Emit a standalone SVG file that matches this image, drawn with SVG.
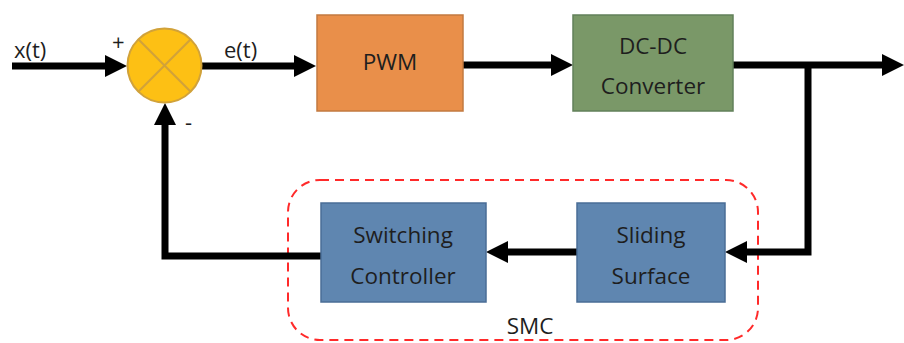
<svg xmlns="http://www.w3.org/2000/svg" width="904" height="343" viewBox="0 0 904 343">
  <style>
    .lbl { font-family: "Open Sans", "Liberation Sans", sans-serif; font-size: 22.5px; fill: #1e1e1e; text-anchor: middle; }
    .sig { font-family: "Open Sans", "Liberation Sans", sans-serif; font-size: 22px; fill: #1e1e1e; }
    .wire { fill: none; stroke: #000; stroke-width: 7; stroke-linejoin: miter; }
    .blue { fill: #5f86b0; stroke: #4a6d96; stroke-width: 1.5; }
  </style>
  <defs>
    <marker id="arrow" markerUnits="userSpaceOnUse" markerWidth="24" markerHeight="24" refX="4" refY="11" orient="auto">
      <path d="M0,0 L22,11 L0,22 Z" fill="#000"/>
    </marker>
  </defs>

  <!-- SMC boundary -->
  <g id="smc">
    <rect x="288" y="180" width="470" height="160" rx="32" ry="32" fill="none" stroke="#ff2a2a" stroke-width="2" stroke-dasharray="9,6"/>
    <text class="lbl" x="530" y="334">SMC</text>
  </g>

  <!-- connectors -->
  <g id="connectors">
    <path class="wire" d="M12,66 H109" marker-end="url(#arrow)"/>
    <path class="wire" d="M202,66 H298" marker-end="url(#arrow)"/>
    <path class="wire" d="M463,65 H555" marker-end="url(#arrow)"/>
    <path class="wire" d="M733,65 H886" marker-end="url(#arrow)"/>
    <path class="wire" d="M808,65 V252 H743" marker-end="url(#arrow)"/>
    <path class="wire" d="M577,252 H504" marker-end="url(#arrow)"/>
    <path class="wire" d="M321,256 H165 V121" marker-end="url(#arrow)"/>
  </g>

  <!-- summing junction -->
  <g id="sum">
    <circle cx="164.5" cy="65.5" r="37" fill="#fdc014" stroke="#d1a23a" stroke-width="2"/>
    <line x1="138.3" y1="39.3" x2="190.7" y2="91.7" stroke="#d1a23a" stroke-width="2"/>
    <line x1="190.7" y1="39.3" x2="138.3" y2="91.7" stroke="#d1a23a" stroke-width="2"/>
    <text class="sig" x="112" y="50" font-size="19">+</text>
    <text class="sig" x="185" y="130" font-size="19">-</text>
  </g>

  <g id="labels">
    <text class="sig" x="14" y="58">x(t)</text>
    <text class="sig" x="224" y="58">e(t)</text>
  </g>

  <g id="pwm">
    <rect x="317" y="15" width="146" height="96" fill="#e98f4a" stroke="#c27a40" stroke-width="1.5"/>
    <text class="lbl" x="390" y="70">PWM</text>
  </g>

  <g id="converter">
    <rect x="573" y="15" width="160" height="96" fill="#7a9868" stroke="#62805a" stroke-width="1.5"/>
    <text class="lbl" x="653" y="54">DC-DC</text>
    <text class="lbl" x="653" y="94">Converter</text>
  </g>

  <g id="sliding">
    <rect class="blue" x="577" y="203" width="148" height="99"/>
    <text class="lbl" x="651" y="243">Sliding</text>
    <text class="lbl" x="651" y="284">Surface</text>
  </g>

  <g id="switching">
    <rect class="blue" x="321" y="203" width="165" height="99"/>
    <text class="lbl" x="403" y="243">Switching</text>
    <text class="lbl" x="403" y="284">Controller</text>
  </g>
</svg>
